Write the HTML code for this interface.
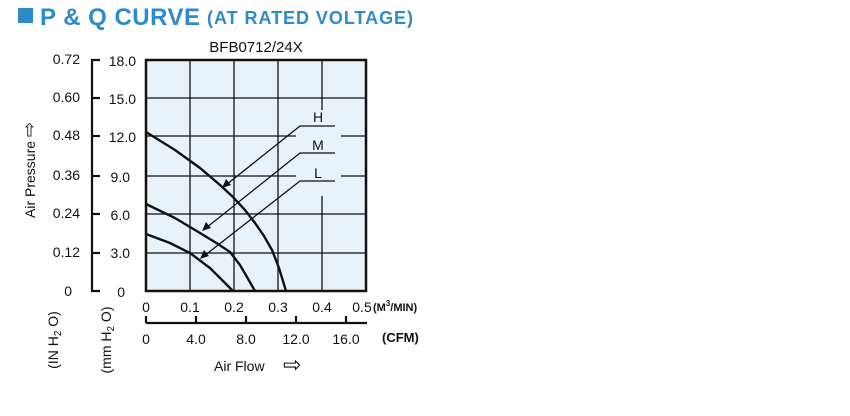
<!DOCTYPE html>
<html><head><meta charset="utf-8"><style>
html,body{margin:0;padding:0;background:#fff;}
svg{display:block;font-family:"Liberation Sans",Arial,sans-serif;}
</style></head><body>
<svg width="850" height="416" viewBox="0 0 850 416" xmlns="http://www.w3.org/2000/svg">
<rect x="18" y="8" width="15" height="15" fill="#2e8bc9"/>
<text x="40" y="25" font-size="24" font-weight="bold" fill="#2e8bc9" textLength="160">P &amp; Q CURVE</text>
<text x="207" y="24" font-size="18" font-weight="bold" fill="#2e8bc9" textLength="206">(AT RATED VOLTAGE)</text>
<text x="256" y="52" font-size="15" text-anchor="middle" fill="#111">BFB0712/24X</text>
<rect x="146" y="60" width="220" height="231" fill="#eaf2f9"/>
<g stroke="#111" stroke-width="1.3">
<line x1="190" y1="60" x2="190" y2="291"/><line x1="234" y1="60" x2="234" y2="291"/>
<line x1="278" y1="60" x2="278" y2="291"/><line x1="322" y1="60" x2="322" y2="291"/>
<line x1="146" y1="98" x2="366" y2="98"/><line x1="146" y1="136" x2="366" y2="136"/>
<line x1="146" y1="176" x2="366" y2="176"/><line x1="146" y1="214" x2="366" y2="214"/>
<line x1="146" y1="253" x2="366" y2="253"/>
</g>
<rect x="296" y="110" width="45" height="86" fill="#eaf2f9"/>
<rect x="146" y="60" width="220" height="231" fill="none" stroke="#111" stroke-width="2.5"/>
<g fill="none" stroke="#111" stroke-width="2.4">
<path d="M146,132 L175,150 L200,168 L220,185 L233,197 L245,210 L255,223 L264,236 L272,250 L279,268 L286,291"/>
<path d="M146,204 L175,218 L200,233 L218,244 L230,252 L240,265 L247,277 L255,291"/>
<path d="M146,234 L170,243 L190,253 L210,268 L222,280 L233,291"/>
</g>
<g fill="none" stroke="#111" stroke-width="1.3">
<polyline points="335,126 300,126 226,185"/>
<polyline points="335,153 300,153 206,228"/>
<polyline points="335,181 300,181 204,256"/>
</g>
<g fill="#111">
<polygon points="222,188 226,179 231,185"/>
<polygon points="202,231 206,222 211,228"/>
<polygon points="200,259 204,250 209,256"/>
</g>
<g font-size="14" fill="#111" text-anchor="middle">
<text x="318" y="122">H</text><text x="318" y="150">M</text><text x="318" y="178">L</text>
</g>
<g stroke="#111" stroke-width="2.2" fill="none">
<polyline points="100,60 92,60 92,291 100,291"/>
<line x1="92" y1="98" x2="100" y2="98"/><line x1="92" y1="136" x2="100" y2="136"/>
<line x1="92" y1="176" x2="100" y2="176"/><line x1="92" y1="214" x2="100" y2="214"/>
<line x1="92" y1="253" x2="100" y2="253"/>
</g>
<g font-size="14" fill="#111" text-anchor="end">
<text x="80" y="64">0.72</text><text x="80" y="102">0.60</text><text x="80" y="140">0.48</text>
<text x="80" y="180">0.36</text><text x="80" y="218">0.24</text><text x="80" y="257">0.12</text>
<text x="72" y="296">0</text>
<text x="136" y="66">18.0</text><text x="136" y="104">15.0</text><text x="136" y="142">12.0</text>
<text x="130" y="182">9.0</text><text x="130" y="220">6.0</text><text x="130" y="258">3.0</text>
<text x="125" y="297">0</text>
</g>
<g font-size="14" fill="#111" text-anchor="middle">
<text transform="translate(35,170) rotate(-90)">Air Pressure <tspan font-size="18">⇨</tspan></text>
<text transform="translate(58,340) rotate(-90)">(IN H<tspan font-size="10" dy="3">2</tspan><tspan dy="-3"> O)</tspan></text>
<text transform="translate(111,340) rotate(-90)">(mm H<tspan font-size="10" dy="3">2</tspan><tspan dy="-3"> O)</tspan></text>
</g>
<g font-size="14" fill="#111" text-anchor="middle">
<text x="146" y="312">0</text><text x="190" y="312">0.1</text><text x="234" y="312">0.2</text>
<text x="278" y="312">0.3</text><text x="322" y="312">0.4</text><text x="362" y="312">0.5</text>
<text x="146" y="344">0</text><text x="196" y="344">4.0</text><text x="246" y="344">8.0</text>
<text x="296" y="344">12.0</text><text x="346" y="344">16.0</text>
</g>
<text x="373" y="311" font-size="11" font-weight="bold" fill="#111">(M<tspan font-size="8" dy="-5">3</tspan><tspan dy="5">/MIN)</tspan></text>
<text x="382" y="342" font-size="13" font-weight="bold" fill="#111">(CFM)</text>
<g stroke="#111" stroke-width="2.2">
<line x1="146" y1="323" x2="367" y2="323"/>
<line x1="146" y1="316" x2="146" y2="323"/><line x1="196" y1="316" x2="196" y2="323"/>
<line x1="246" y1="316" x2="246" y2="323"/><line x1="296" y1="316" x2="296" y2="323"/>
<line x1="346" y1="316" x2="346" y2="323"/>
</g>
<text x="214" y="371" font-size="14" fill="#111">Air Flow</text>
<text x="283" y="372" font-size="22" fill="#111">⇨</text>
</svg>
</body></html>
